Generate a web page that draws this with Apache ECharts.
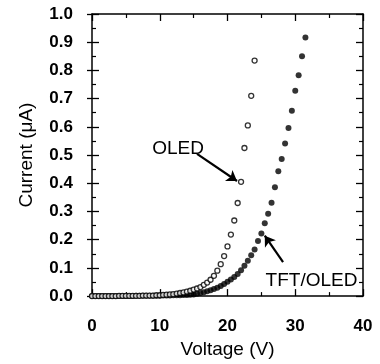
<!DOCTYPE html>
<html>
<head>
<meta charset="utf-8">
<script src="https://cdn.jsdelivr.net/npm/echarts@6/dist/echarts.min.js"></script>
<style>
	html, body { margin: 0; padding: 0; background: #fff; }
	#chart { width: 380px; height: 364px; }
</style>
</head>
<body>
<div id="chart"></div>
<script>
// OLED alone (open circles)
const oledVoltage = [0, 0.5, 1, 1.5, 2, 2.5, 3, 3.5, 4, 4.5, 5, 5.5, 6, 6.5, 7, 7.5, 8, 8.5, 9, 9.5,
	10, 10.5, 11, 11.5, 12, 12.5, 13, 13.5, 14, 14.5, 15, 15.5, 16, 16.5, 17, 17.5, 18, 18.5, 19, 19.5,
	20, 20.5, 21, 21.5, 22, 22.5, 23, 23.5, 24]
const oledCurrent = [0.000, 0.000, 0.000, 0.000, 0.000, 0.000, 0.000, 0.000, 0.001, 0.001,
	0.001, 0.001, 0.001, 0.001, 0.001, 0.002, 0.002, 0.002, 0.002, 0.003,
	0.003, 0.004, 0.005, 0.006, 0.007, 0.009, 0.011, 0.013, 0.016, 0.019,
	0.023, 0.027, 0.032, 0.040, 0.048, 0.058, 0.072, 0.090, 0.113, 0.142,
	0.176, 0.218, 0.268, 0.330, 0.405, 0.525, 0.605, 0.710, 0.835]

// TFT/OLED pixel (filled dots)
const tftVoltage = [0, 0.5, 1, 1.5, 2, 2.5, 3, 3.5, 4, 4.5, 5, 5.5, 6, 6.5, 7, 7.5, 8, 8.5, 9, 9.5,
	10, 10.5, 11, 11.5, 12, 12.5, 13, 13.5, 14, 14.5, 15, 15.5, 16, 16.5, 17, 17.5, 18, 18.5, 19, 19.5,
	20, 20.5, 21, 21.5, 22, 22.5, 23, 23.5, 24, 24.5, 25, 25.5, 26, 26.5, 27, 27.5, 28, 28.5, 29, 29.5,
	30, 30.5, 31, 31.5]
const tftCurrent = [0.000, 0.000, 0.000, 0.000, 0.000, 0.000, 0.000, 0.000, 0.000, 0.000,
	0.000, 0.000, 0.000, 0.001, 0.001, 0.001, 0.001, 0.001, 0.001, 0.001,
	0.001, 0.002, 0.002, 0.002, 0.003, 0.003, 0.003, 0.004, 0.004, 0.005,
	0.006, 0.008, 0.011, 0.014, 0.017, 0.021, 0.025, 0.030, 0.036, 0.043,
	0.051, 0.059, 0.068, 0.078, 0.092, 0.108, 0.125, 0.145, 0.165, 0.195,
	0.222, 0.258, 0.292, 0.331, 0.386, 0.443, 0.486, 0.541, 0.596, 0.657,
	0.728, 0.783, 0.850, 0.917]

// annotation text and arrows, in data units
const oledLabel = { text: 'OLED', at: [12.7, 0.521] }
const oledArrow = [[15.5, 0.504], [21.4, 0.408]]
const tftLabel = { text: 'TFT/OLED', at: [32.4, 0.055] }
const tftArrow = [[28.2, 0.12], [25.5, 0.214]]

const font = '"Liberation Sans", Arial, Helvetica, sans-serif'
const black = '#000'

const frameAxis = (extra) => Object.assign({
	min: 0,
	axisLine: { show: true, onZero: false, lineStyle: { color: black, width: 1.5 } },
	axisTick: { show: true, inside: true, length: 7, lineStyle: { color: black, width: 1.3 } },
	minorTick: { show: true, splitNumber: 2, length: 4, lineStyle: { color: black, width: 1.2 } },
	splitLine: { show: false },
	axisLabel: { show: false },
}, extra)

const chart = echarts.init(document.getElementById('chart'), null, { renderer: 'canvas' })

chart.setOption({
	animation: false,
	backgroundColor: '#fff',
	grid: { left: 92, right: 17, top: 14, bottom: 66 },
	xAxis: [
		frameAxis({
			type: 'value', position: 'bottom', max: 40, interval: 10,
			axisLabel: { show: true, color: black, fontSize: 17, fontWeight: 'bold', fontFamily: font, margin: 22 },
			name: 'Voltage (V)', nameLocation: 'middle', nameGap: 43,
			nameTextStyle: { color: black, fontSize: 19, fontFamily: font },
		}),
		frameAxis({ type: 'value', position: 'top', max: 40, interval: 10 }),
	],
	yAxis: [
		frameAxis({
			type: 'value', position: 'left', max: 1, interval: 0.1,
			axisLabel: { show: true, color: black, fontSize: 17, fontWeight: 'bold', fontFamily: font, margin: 19, formatter: (v) => v.toFixed(1) },
			name: 'Current (\u03bcA)', nameLocation: 'middle', nameGap: 56,
			nameTextStyle: { color: black, fontSize: 19, fontFamily: font },
		}),
		frameAxis({ type: 'value', position: 'right', max: 1, interval: 0.1 }),
		// major ticks poke out on the left side too
		frameAxis({
			type: 'value', position: 'left', max: 1, interval: 0.1,
			axisLine: { show: false },
			axisTick: { show: true, inside: false, length: 5, lineStyle: { color: black, width: 1.3 } },
			minorTick: { show: false },
		}),
	],
	series: [
		{
			name: 'OLED',
			type: 'scatter',
			symbol: 'circle',
			symbolSize: 5,
			itemStyle: { color: '#fff', borderColor: black, borderWidth: 1.3 },
			data: oledVoltage.map((v, i) => [v, oledCurrent[i]]),
			z: 3,
			markLine: {
				silent: true,
				symbol: ['none', 'arrow'],
				symbolSize: 10,
				label: { show: false },
				lineStyle: { color: black, width: 2.2, type: 'solid' },
				data: [[{ coord: oledArrow[0] }, { coord: oledArrow[1] }]],
			},
			markPoint: {
				symbol: 'circle',
				symbolSize: 0,
				label: { show: true, position: 'inside', color: black, fontSize: 19, fontFamily: font },
				data: [{ coord: oledLabel.at, label: { formatter: oledLabel.text } }],
			},
		},
		{
			name: 'TFT/OLED',
			type: 'scatter',
			symbol: 'circle',
			symbolSize: 6,
			itemStyle: { color: black },
			data: tftVoltage.map((v, i) => [v, tftCurrent[i]]),
			z: 2,
			markLine: {
				silent: true,
				symbol: ['none', 'arrow'],
				symbolSize: 10,
				label: { show: false },
				lineStyle: { color: black, width: 2.2, type: 'solid' },
				data: [[{ coord: tftArrow[0] }, { coord: tftArrow[1] }]],
			},
			markPoint: {
				symbol: 'circle',
				symbolSize: 0,
				label: { show: true, position: 'inside', color: black, fontSize: 19, fontFamily: font },
				data: [{ coord: tftLabel.at, label: { formatter: tftLabel.text } }],
			},
		},
	],
})

window.addEventListener('resize', () => {
	chart.resize()
})
</script>
</body>
</html>
